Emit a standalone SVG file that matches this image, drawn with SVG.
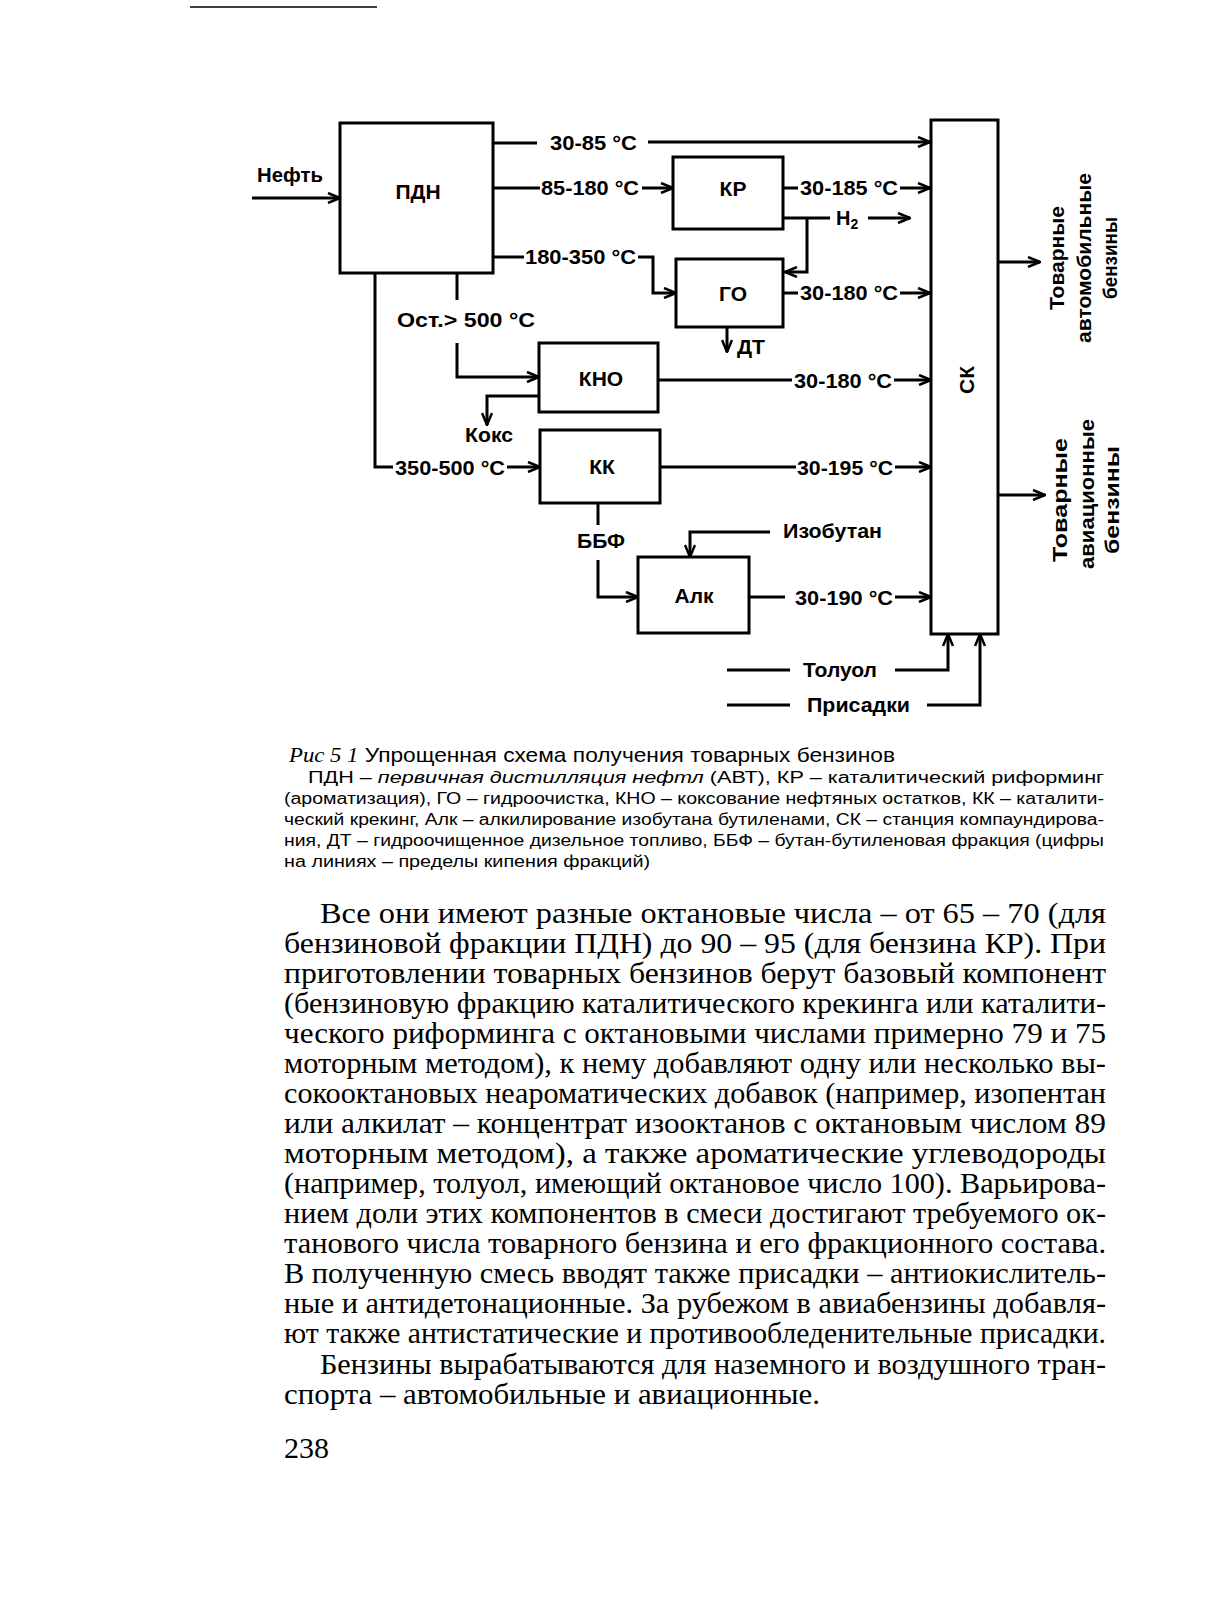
<svg xmlns="http://www.w3.org/2000/svg" width="1221" height="1601" viewBox="0 0 1221 1601">
<defs>
<marker id="arr" markerUnits="userSpaceOnUse" viewBox="0 0 14 12" refX="13" refY="6" markerWidth="14" markerHeight="12" orient="auto">
<path d="M1,1 L13,6 L1,11" fill="none" stroke="#000" stroke-width="2.5"/>
</marker>
<style>
.box{fill:#fff;stroke:#000;stroke-width:3}
.ln{fill:none;stroke:#000;stroke-width:3;stroke-linejoin:miter}
.lb{font-family:"Liberation Sans",Arial,sans-serif;font-weight:bold;font-size:20px;fill:#000}
.nd{font-family:"Liberation Sans",Arial,sans-serif;font-weight:bold;font-size:21px;fill:#000;text-anchor:middle}
.rt{font-family:"Liberation Sans",Arial,sans-serif;font-weight:bold;font-size:20px;fill:#000;text-anchor:middle}
.cap{font-family:"Liberation Sans",Arial,sans-serif;font-size:16px;fill:#000}
.cap1{font-family:"Liberation Sans",Arial,sans-serif;font-size:21px;fill:#000}
.body{font-family:"Liberation Serif","Times New Roman",serif;font-size:30px;fill:#000}
</style>
</defs>
<rect x="0" y="0" width="1221" height="1601" fill="#fff"/>
<line x1="190" y1="7" x2="377" y2="7" stroke="#000" stroke-width="1.5"/>

<g id="connectors">
<path class="ln" d="M252,198 H340" marker-end="url(#arr)"/>
<path class="ln" d="M493,143 H537"/>
<path class="ln" d="M648,142 H930" marker-end="url(#arr)"/>
<path class="ln" d="M493,188 H540"/>
<path class="ln" d="M642,188 H673" marker-end="url(#arr)"/>
<path class="ln" d="M493,257 H524"/>
<path class="ln" d="M638,257 H653 V293 H676" marker-end="url(#arr)"/>
<path class="ln" d="M783,188 H798"/>
<path class="ln" d="M900,188 H930" marker-end="url(#arr)"/>
<path class="ln" d="M783,218 H830"/>
<path class="ln" d="M868,218 H910" marker-end="url(#arr)"/>
<path class="ln" d="M807,218 V272 H785" marker-end="url(#arr)"/>
<path class="ln" d="M783,293 H798"/>
<path class="ln" d="M900,293 H930" marker-end="url(#arr)"/>
<path class="ln" d="M727,327 V352" marker-end="url(#arr)"/>
<path class="ln" d="M457,273 V300"/>
<path class="ln" d="M457,343 V377 H539" marker-end="url(#arr)"/>
<path class="ln" d="M539,396 H487 V425" marker-end="url(#arr)"/>
<path class="ln" d="M658,380 H792"/>
<path class="ln" d="M894,380 H931" marker-end="url(#arr)"/>
<path class="ln" d="M375,273 V467 H393"/>
<path class="ln" d="M507,467 H540" marker-end="url(#arr)"/>
<path class="ln" d="M660,467 H796"/>
<path class="ln" d="M895,467 H931" marker-end="url(#arr)"/>
<path class="ln" d="M598,503 V525"/>
<path class="ln" d="M598,560 V597 H638" marker-end="url(#arr)"/>
<path class="ln" d="M770,532 H690 V557" marker-end="url(#arr)"/>
<path class="ln" d="M749,597 H785"/>
<path class="ln" d="M895,597 H931" marker-end="url(#arr)"/>
<path class="ln" d="M727,670 H790"/>
<path class="ln" d="M895,670 H948 V634" marker-end="url(#arr)"/>
<path class="ln" d="M727,705 H790"/>
<path class="ln" d="M927,705 H980 V634" marker-end="url(#arr)"/>
<path class="ln" d="M998,262 H1040" marker-end="url(#arr)"/>
<path class="ln" d="M998,495 H1045" marker-end="url(#arr)"/>
</g>

<g id="edge-labels">
<text class="lb" x="257" y="182" textLength="66" lengthAdjust="spacingAndGlyphs">Нефть</text>
<text class="lb" x="550" y="150" textLength="87" lengthAdjust="spacingAndGlyphs">30-85 °C</text>
<text class="lb" x="541" y="195" textLength="98" lengthAdjust="spacingAndGlyphs">85-180 °C</text>
<text class="lb" x="525" y="264" textLength="111" lengthAdjust="spacingAndGlyphs">180-350 °C</text>
<text class="lb" x="397" y="327" textLength="138" lengthAdjust="spacingAndGlyphs">Ост.&gt; 500 °C</text>
<text class="lb" x="800" y="195" textLength="98" lengthAdjust="spacingAndGlyphs">30-185 °C</text>
<text class="lb" x="836" y="225">H<tspan font-size="14" dy="4">2</tspan></text>
<text class="lb" x="800" y="300" textLength="98" lengthAdjust="spacingAndGlyphs">30-180 °C</text>
<text class="lb" x="737" y="354" textLength="28" lengthAdjust="spacingAndGlyphs">ДТ</text>
<text class="lb" x="465" y="442" textLength="48" lengthAdjust="spacingAndGlyphs">Кокс</text>
<text class="lb" x="395" y="475" textLength="110" lengthAdjust="spacingAndGlyphs">350-500 °C</text>
<text class="lb" x="794" y="388" textLength="98" lengthAdjust="spacingAndGlyphs">30-180 °C</text>
<text class="lb" x="797" y="475" textLength="96" lengthAdjust="spacingAndGlyphs">30-195 °C</text>
<text class="lb" x="577" y="548" textLength="48" lengthAdjust="spacingAndGlyphs">ББФ</text>
<text class="lb" x="783" y="538" textLength="99" lengthAdjust="spacingAndGlyphs">Изобутан</text>
<text class="lb" x="795" y="605" textLength="98" lengthAdjust="spacingAndGlyphs">30-190 °C</text>
<text class="lb" x="803" y="677" textLength="74" lengthAdjust="spacingAndGlyphs">Толуол</text>
<text class="lb" x="807" y="712" textLength="103" lengthAdjust="spacingAndGlyphs">Присадки</text>
</g>

<g id="node-pdn"><rect class="box" x="340" y="123" width="153" height="150"/><text class="nd" x="418" y="199">ПДН</text></g>
<g id="node-kr"><rect class="box" x="673" y="157" width="110" height="72"/><text class="nd" x="733" y="196">КР</text></g>
<g id="node-go"><rect class="box" x="676" y="259" width="107" height="68"/><text class="nd" x="733" y="301">ГО</text></g>
<g id="node-kno"><rect class="box" x="539" y="343" width="119" height="69"/><text class="nd" x="601" y="386">КНО</text></g>
<g id="node-kk"><rect class="box" x="540" y="430" width="120" height="73"/><text class="nd" x="602" y="474">КК</text></g>
<g id="node-alk"><rect class="box" x="638" y="557" width="111" height="76"/><text class="nd" x="694" y="603">Алк</text></g>
<g id="node-sk"><rect class="box" x="931" y="120" width="67" height="514"/><text class="nd" transform="translate(974,380) rotate(-90)" x="0" y="0">СК</text></g>

<g id="out-auto">
<text class="rt" transform="translate(1064,258) rotate(-90)" textLength="104" lengthAdjust="spacingAndGlyphs">Товарные</text>
<text class="rt" transform="translate(1091,258) rotate(-90)" textLength="170" lengthAdjust="spacingAndGlyphs">автомобильные</text>
<text class="rt" transform="translate(1117,258) rotate(-90)" textLength="82" lengthAdjust="spacingAndGlyphs">бензины</text>
</g>
<g id="out-avia">
<text class="rt" transform="translate(1067,500) rotate(-90)" textLength="124" lengthAdjust="spacingAndGlyphs">Товарные</text>
<text class="rt" transform="translate(1094,494) rotate(-90)" textLength="150" lengthAdjust="spacingAndGlyphs">авиационные</text>
<text class="rt" transform="translate(1119,500) rotate(-90)" textLength="108" lengthAdjust="spacingAndGlyphs">бензины</text>
</g>

<g id="caption">
<text class="cap1" x="289" y="762" textLength="606" lengthAdjust="spacingAndGlyphs"><tspan font-family="Liberation Serif" font-style="italic">Рис  5 1</tspan> Упрощенная схема получения товарных бензинов</text>
<text class="cap" x="308" y="783" textLength="796" lengthAdjust="spacingAndGlyphs">ПДН – <tspan font-style="italic">первичная дистилляция нефтл</tspan> (АВТ), КР – каталитический риформинг</text>
<text class="cap" x="284" y="804" textLength="820" lengthAdjust="spacingAndGlyphs">(ароматизация), ГО – гидроочистка, КНО – коксование нефтяных остатков, КК – каталити-</text>
<text class="cap" x="284" y="825" textLength="820" lengthAdjust="spacingAndGlyphs">ческий крекинг, Алк – алкилирование изобутана бутиленами, СК – станция компаундирова-</text>
<text class="cap" x="284" y="846" textLength="820" lengthAdjust="spacingAndGlyphs">ния, ДТ – гидроочищенное дизельное топливо, ББФ – бутан-бутиленовая фракция (цифры</text>
<text class="cap" x="284" y="867" textLength="366" lengthAdjust="spacingAndGlyphs">на линиях – пределы кипения фракций)</text>
</g>

<g id="body">
<text class="body" x="320" y="923" textLength="786" lengthAdjust="spacingAndGlyphs">Все они имеют разные октановые числа – от 65 – 70 (для</text>
<text class="body" x="284" y="953" textLength="822" lengthAdjust="spacingAndGlyphs">бензиновой фракции ПДН) до 90 – 95 (для бензина КР). При</text>
<text class="body" x="284" y="983" textLength="822" lengthAdjust="spacingAndGlyphs">приготовлении товарных бензинов берут базовый компонент</text>
<text class="body" x="284" y="1013" textLength="822" lengthAdjust="spacingAndGlyphs">(бензиновую фракцию каталитического крекинга или каталити-</text>
<text class="body" x="284" y="1043" textLength="822" lengthAdjust="spacingAndGlyphs">ческого риформинга с октановыми числами примерно 79 и 75</text>
<text class="body" x="284" y="1073" textLength="822" lengthAdjust="spacingAndGlyphs">моторным методом), к нему добавляют одну или несколько вы-</text>
<text class="body" x="284" y="1103" textLength="822" lengthAdjust="spacingAndGlyphs">сокооктановых неароматических добавок (например, изопентан</text>
<text class="body" x="284" y="1133" textLength="822" lengthAdjust="spacingAndGlyphs">или алкилат – концентрат изооктанов с октановым числом 89</text>
<text class="body" x="284" y="1163" textLength="822" lengthAdjust="spacingAndGlyphs">моторным методом), а также ароматические углеводороды</text>
<text class="body" x="284" y="1193" textLength="822" lengthAdjust="spacingAndGlyphs">(например, толуол, имеющий октановое число 100). Варьирова-</text>
<text class="body" x="284" y="1223" textLength="822" lengthAdjust="spacingAndGlyphs">нием доли этих компонентов в смеси достигают требуемого ок-</text>
<text class="body" x="284" y="1253" textLength="822" lengthAdjust="spacingAndGlyphs">танового числа товарного бензина и его фракционного состава.</text>
<text class="body" x="284" y="1283" textLength="822" lengthAdjust="spacingAndGlyphs">В полученную смесь вводят также присадки – антиокислитель-</text>
<text class="body" x="284" y="1313" textLength="822" lengthAdjust="spacingAndGlyphs">ные и антидетонационные. За рубежом в авиабензины добавля-</text>
<text class="body" x="284" y="1343" textLength="822" lengthAdjust="spacingAndGlyphs">ют также антистатические и противообледенительные присадки.</text>
<text class="body" x="320" y="1374" textLength="786" lengthAdjust="spacingAndGlyphs">Бензины вырабатываются для наземного и воздушного тран-</text>
<text class="body" x="284" y="1404" textLength="536" lengthAdjust="spacingAndGlyphs">спорта – автомобильные и авиационные.</text>
<text class="body" x="284" y="1458">238</text>
</g>
</svg>
